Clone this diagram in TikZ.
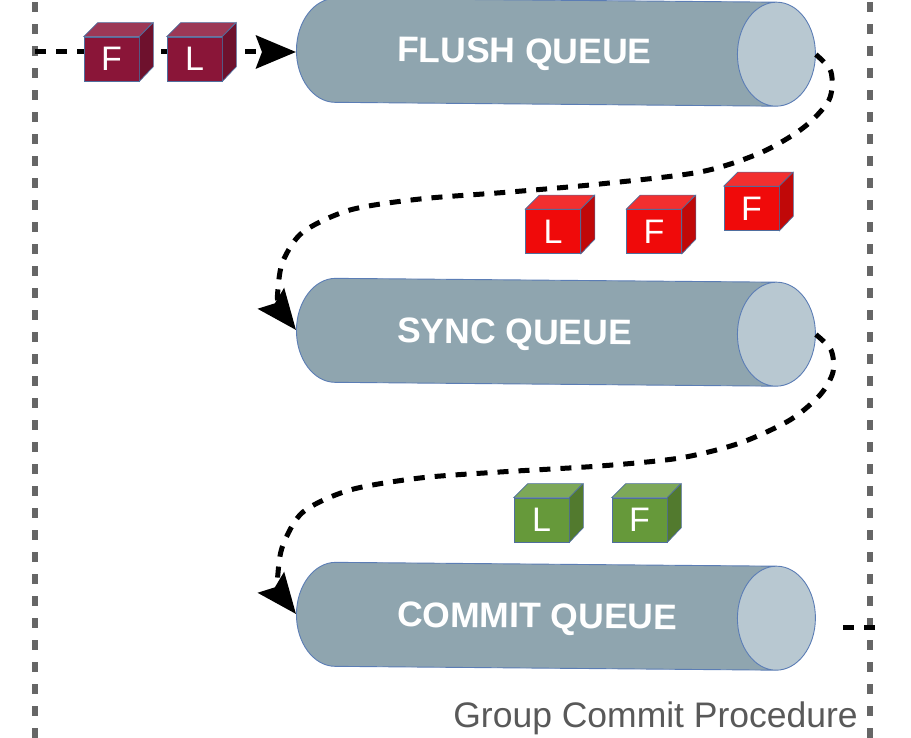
\documentclass[tikz,border=0pt]{standalone}
\usepackage{fontspec}
\setmainfont{Liberation Sans}
\usetikzlibrary{arrows.meta, shapes.geometric, calc}
\definecolor{queuebody}{HTML}{8FA5AF}
\definecolor{queueend}{HTML}{B8C8D1}
\definecolor{queueline}{HTML}{5B7DB5}
\definecolor{cubeline}{HTML}{4F6E9E}
\definecolor{maroon}{HTML}{8A1538}
\definecolor{brightred}{HTML}{F00A0A}
\definecolor{leafgreen}{HTML}{66993A}
\definecolor{framegray}{HTML}{666666}
\definecolor{labelgray}{HTML}{595959}
\tikzset{
  queue/.style={cylinder, shape border rotate=0, aspect=0.75, minimum width=104pt, minimum height=519pt, inner xsep=0pt, inner ysep=52pt, draw=queueline, line width=0.9pt, cylinder uses custom fill, cylinder body fill=queuebody, cylinder end fill=queueend, rotate=-0.5, anchor=west},
  qtext/.style={text=white, font=\bfseries\fontsize{35.5}{40}\selectfont, anchor=west, inner sep=0pt, rotate=-0.5},
  cubefront/.style={draw=cubeline, line width=0.7pt, minimum width=55pt, minimum height=44pt, inner sep=0pt, text=white, font=\fontsize{34}{40}\selectfont},
  cubeside/.style={draw=cubeline, line width=0.7pt},
  flow/.style={line width=5pt, dash pattern=on 11pt off 10pt, -{Stealth[length=40pt, width=33pt, inset=6pt]}},
  frame/.style={framegray, line width=5.5pt, dash pattern=on 10pt off 12pt}
}
\begin{document}
\begin{tikzpicture}[x=1pt, y=1pt]
\useasboundingbox (0,0) rectangle (911,738);
% procedure frame
\draw[frame] (35,0) -- (35,738);
\draw[frame] (870,0) -- (870,738);
\node[text=labelgray, font=\fontsize{35.5}{40}\selectfont, anchor=base east, inner sep=0pt] (title) at (858,10) {Group Commit Procedure};

% queues
\node[queue] (flush) at (296,688) {};
\node[queue] (sync) at (296,408) {};
\node[queue] (commit) at (296,124) {};
\node[qtext] (flushlbl) at (397,685) {FLUSH QUEUE};
\node[qtext] (synclbl) at (397,404) {SYNC QUEUE};
\node[qtext] (commitlbl) at (397,120) {COMMIT QUEUE};

% flows between the queues
\coordinate (start) at (35,686);
\draw[flow] (start) -- (start -| flush.west);
\draw[flow] plot[smooth, tension=0.5] coordinates {(flush.east) (831,666) (829,638) (803,610) (760,585) (700,566) (600,554) (510,546) (420,539) (350,528) (303,506) (283,477) (278,449) (279,432) (sync.west)};
\draw[flow] plot[smooth, tension=0.5] coordinates {(sync.east) (831,388) (833,366) (820,343) (790,318) (740,295) (680,280) (600,272) (500,266) (420,260) (350,248) (303,226) (283,193) (278,165) (279,148) (commit.west)};
\coordinate (out0) at (843,110);
\coordinate (out1) at (877,110);
\draw[flow, -] (out0) -- (out1);

% transactions
\foreach \nm/\x/\y/\ltr/\clr in {inF/111.5/679/F/maroon, inL/194.5/679/L/maroon, synL/553/506.5/L/brightred, synF/654/506.5/F/brightred, synG/751.5/529.5/F/brightred, comL/541.5/218/L/leafgreen, comF/639.5/218/F/leafgreen} {
  \node[cubefront, fill=\clr] (\nm) at (\x,\y) {\ltr};
  \filldraw[cubeside, fill=\clr!85!white] (\nm.north west) -- ++(14,14) -- ++(55,0) -- (\nm.north east) -- cycle;
  \filldraw[cubeside, fill=\clr!80!black] (\nm.north east) -- ++(14,14) -- ++(0,-44) -- (\nm.south east) -- cycle;
}
\end{tikzpicture}
\end{document}
